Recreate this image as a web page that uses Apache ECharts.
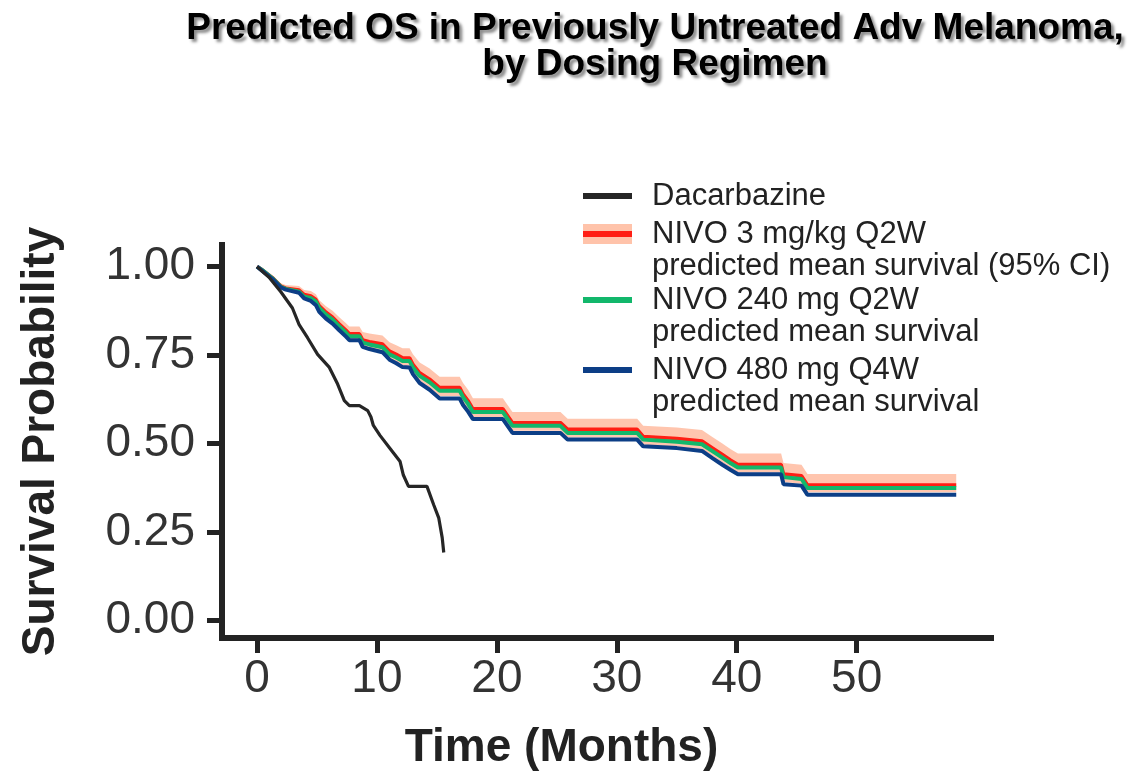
<!DOCTYPE html>
<html>
<head>
<meta charset="utf-8">
<script src="https://cdn.jsdelivr.net/npm/echarts@6/dist/echarts.min.js"></script>
<style>
html,body{margin:0;padding:0;background:#fff;}
#chart{width:1133px;height:776px;}
</style>
</head>
<body>
<div id="chart"></div>
<script>
// ---- data ----
const titleLines = ['Predicted OS in Previously Untreated Adv Melanoma,', 'by Dosing Regimen'];
const seriesNames = ['Dacarbazine', 'NIVO 3 mg/kg Q2W', 'NIVO 240 mg Q2W', 'NIVO 480 mg Q4W'];
const seriesSubtitles = ['', 'predicted mean survival (95% CI)', 'predicted mean survival', 'predicted mean survival'];
const xTicks = [0, 10, 20, 30, 40, 50];
const yTicks = [0, 0.25, 0.5, 0.75, 1.0];

const dacTime = [0, 1.0, 1.98, 2.95, 3.51, 4.21, 5.05, 6.03, 6.72, 7.28, 7.7, 8.54, 9.23, 9.5, 9.7, 10.25, 11.09, 11.93, 12.2, 12.63, 14.17, 14.73, 15.15, 15.44, 15.57];
const dacSurv = [1.0, 0.97, 0.929, 0.883, 0.836, 0.799, 0.752, 0.715, 0.668, 0.621, 0.607, 0.607, 0.593, 0.575, 0.551, 0.523, 0.486, 0.449, 0.411, 0.379, 0.379, 0.327, 0.29, 0.234, 0.192];

const nivoTime = [0, 0.44, 1.28, 1.98, 2.4, 3.5, 3.93, 4.49, 4.91, 5.19, 5.75, 6.3, 6.86, 7.42, 7.7, 8.54, 8.81, 9.37, 10.46, 11.05, 11.61, 12.13, 12.72, 13.0, 13.56, 14.39, 15.23, 16.9, 17.18, 17.6, 18.0, 20.5, 21.3, 25.3, 25.9, 31.7, 32.2, 35.0, 37.1, 38.0, 38.8, 39.5, 40.1, 43.7, 43.9, 45.4, 45.9, 58.3];
const nivo3mgkg = [1.0, 0.991, 0.969, 0.945, 0.939, 0.934, 0.921, 0.917, 0.907, 0.889, 0.871, 0.857, 0.838, 0.820, 0.810, 0.810, 0.793, 0.788, 0.781, 0.761, 0.752, 0.742, 0.742, 0.724, 0.700, 0.682, 0.658, 0.658, 0.640, 0.621, 0.598, 0.598, 0.559, 0.559, 0.540, 0.540, 0.520, 0.514, 0.507, 0.487, 0.469, 0.453, 0.441, 0.441, 0.414, 0.409, 0.383, 0.383];
const nivo240 = [1.0, 0.99, 0.967, 0.943, 0.937, 0.929, 0.915, 0.911, 0.901, 0.883, 0.864, 0.85, 0.831, 0.813, 0.803, 0.803, 0.785, 0.78, 0.772, 0.752, 0.743, 0.733, 0.733, 0.715, 0.691, 0.673, 0.649, 0.649, 0.631, 0.612, 0.589, 0.589, 0.55, 0.55, 0.53, 0.53, 0.511, 0.505, 0.498, 0.478, 0.46, 0.444, 0.432, 0.432, 0.405, 0.40, 0.374, 0.374];
const nivo480 = [1.0, 0.988, 0.965, 0.941, 0.935, 0.926, 0.910, 0.903, 0.891, 0.872, 0.853, 0.839, 0.820, 0.802, 0.792, 0.792, 0.773, 0.767, 0.758, 0.737, 0.727, 0.716, 0.715, 0.696, 0.671, 0.652, 0.627, 0.627, 0.609, 0.590, 0.569, 0.569, 0.530, 0.530, 0.511, 0.511, 0.492, 0.487, 0.479, 0.458, 0.440, 0.425, 0.413, 0.413, 0.385, 0.381, 0.355, 0.355];
const ciLower = [1.0, 0.988, 0.965, 0.940, 0.933, 0.925, 0.911, 0.905, 0.894, 0.875, 0.856, 0.841, 0.822, 0.804, 0.793, 0.793, 0.775, 0.769, 0.761, 0.740, 0.730, 0.720, 0.720, 0.701, 0.677, 0.658, 0.634, 0.634, 0.616, 0.597, 0.575, 0.575, 0.536, 0.536, 0.517, 0.517, 0.497, 0.491, 0.484, 0.464, 0.446, 0.430, 0.418, 0.418, 0.391, 0.386, 0.362, 0.362];
const ciUpper = [1.0, 0.995, 0.975, 0.953, 0.948, 0.945, 0.934, 0.931, 0.922, 0.905, 0.888, 0.875, 0.857, 0.840, 0.831, 0.831, 0.815, 0.811, 0.805, 0.786, 0.778, 0.769, 0.769, 0.752, 0.729, 0.712, 0.689, 0.689, 0.671, 0.652, 0.628, 0.628, 0.589, 0.589, 0.570, 0.570, 0.550, 0.545, 0.538, 0.518, 0.500, 0.484, 0.472, 0.472, 0.445, 0.440, 0.414, 0.414];

// ---- build ----
const pairs = (xs, ys) => xs.map((x, i) => [x, ys[i]]);
const bandData = nivoTime.map((t, i) => [t, ciLower[i], ciUpper[i]]);

const C = {
  black: '#262626', red: '#ff1e14', band: 'rgba(255,158,120,0.6)', bandSolid: '#ffc3aa',
  green: '#12b76b', blue: '#0c3e86', axis: '#232323', text: '#222'
};
const FONT = "'Liberation Sans', Arial, Helvetica, sans-serif";

const redIcon = 'image://data:image/svg+xml;charset=utf-8,' + encodeURIComponent(
  "<svg xmlns='http://www.w3.org/2000/svg' width='49' height='20'>" +
  "<rect width='49' height='20' fill='" + C.bandSolid + "'/>" +
  "<rect y='7' width='49' height='6' fill='" + C.red + "'/></svg>");

const legendText = { fontFamily: FONT, fontSize: 31, color: C.text, lineHeight: 32, padding: [0, 0, 0, 15] };
function makeLegend(idx, top, icon, itemHeight) {
  const two = seriesSubtitles[idx] !== '';
  return {
    orient: 'vertical', left: 583, top: top, padding: 0,
    itemWidth: 49, itemHeight: itemHeight, selectedMode: false,
    data: [{ name: seriesNames[idx], icon: icon }],
    // a blank first line keeps the icon level with the series name
    formatter: (n) => two ? ' \n' + n + '\n' + seriesSubtitles[idx] : n,
    textStyle: legendText
  };
}

const lineBase = { type: 'line', symbol: 'none', showSymbol: false, silent: true, animation: false, emphasis: { disabled: true } };

const option = {
  animation: false,
  title: {
    text: titleLines.join('\n'),
    left: 650, top: 6, textAlign: 'center',
    textStyle: {
      fontFamily: FONT, fontWeight: 'bold', fontSize: 37, lineHeight: 36, color: '#000',
      textShadowColor: 'rgba(0,0,0,0.45)', textShadowBlur: 3, textShadowOffsetX: 3, textShadowOffsetY: 3
    }
  },
  legend: [
    makeLegend(0, 180, 'rect', 6),
    makeLegend(1, 186, redIcon, 20),
    makeLegend(2, 252, 'rect', 6),
    makeLegend(3, 322, 'rect', 6)
  ],
  grid: { left: 222, right: 142, top: 245, bottom: 135, containLabel: false },
  xAxis: {
    type: 'value', min: -2.92, max: 61.2,
    name: 'Time (Months)', nameLocation: 'middle', nameGap: 87,
    nameTextStyle: { fontFamily: FONT, fontWeight: 'bold', fontSize: 46, color: C.text, padding: [0, 90, 0, 0] },
    axisLine: { show: true, onZero: false, lineStyle: { color: C.axis, width: 6, cap: 'square' } },
    axisTick: { show: true, length: 15, customValues: xTicks, lineStyle: { color: C.axis, width: 5 } },
    axisLabel: { customValues: xTicks, margin: 18, fontFamily: FONT, fontSize: 46, color: '#333' },
    splitLine: { show: false }
  },
  yAxis: {
    type: 'value', min: -0.0496, max: 1.061,
    name: 'Survival Probability', nameLocation: 'middle', nameGap: 158,
    nameTextStyle: { fontFamily: FONT, fontWeight: 'bold', fontSize: 46, color: C.text },
    axisLine: { show: true, onZero: false, lineStyle: { color: C.axis, width: 6, cap: 'square' } },
    axisTick: { show: true, length: 15, customValues: yTicks, lineStyle: { color: C.axis, width: 5 } },
    axisLabel: { customValues: yTicks, margin: 27, fontFamily: FONT, fontSize: 46, color: '#333', formatter: (v) => v.toFixed(2) },
    splitLine: { show: false }
  },
  series: [
    Object.assign({}, lineBase, { name: seriesNames[1], data: pairs(nivoTime, nivo3mgkg), color: C.red, lineStyle: { color: C.red, width: 3.5 } }),
    {
      type: 'custom', name: '95% CI', silent: true, clip: true, animation: false,
      data: bandData, encode: { x: 0, y: [1, 2] },
      renderItem: (params, api) => {
        if (params.dataIndex !== 0) return null;
        const n = params.dataInsideLength;
        const upper = [], lower = [];
        for (let i = 0; i < n; i++) {
          upper.push(api.coord([api.value(0, i), api.value(2, i)]));
          lower.push(api.coord([api.value(0, i), api.value(1, i)]));
        }
        return { type: 'polygon', shape: { points: upper.concat(lower.reverse()) }, style: { fill: C.band } };
      }
    },
    Object.assign({}, lineBase, { name: seriesNames[2], data: pairs(nivoTime, nivo240), color: C.green, lineStyle: { color: C.green, width: 4 } }),
    Object.assign({}, lineBase, { name: seriesNames[3], data: pairs(nivoTime, nivo480), color: C.blue, lineStyle: { color: C.blue, width: 4 } }),
    Object.assign({}, lineBase, { name: seriesNames[0], data: pairs(dacTime, dacSurv), color: C.black, lineStyle: { color: C.black, width: 3.2 } })
  ]
};

const chart = echarts.init(document.getElementById('chart'), null, { renderer: 'canvas' });
chart.setOption(option);
</script>
</body>
</html>
